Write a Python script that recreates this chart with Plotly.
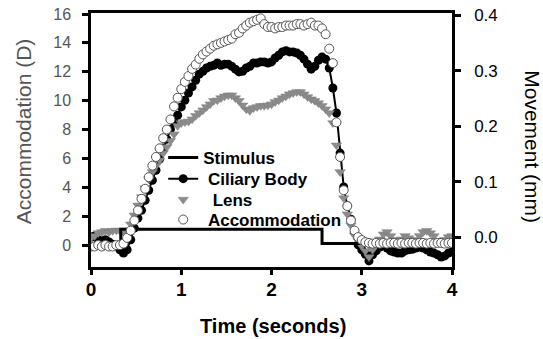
import plotly.graph_objects as go

# ---------------- data ----------------
time_s = [0.00, 0.04, 0.08, 0.12, 0.16, 0.20, 0.24, 0.28, 0.32, 0.36,
          0.40, 0.44, 0.48, 0.52, 0.56, 0.60, 0.64, 0.68, 0.72, 0.76,
          0.80, 0.84, 0.88, 0.92, 0.96, 1.00, 1.04, 1.08, 1.12, 1.16,
          1.20, 1.24, 1.28, 1.32, 1.36, 1.40, 1.44, 1.48, 1.52, 1.56,
          1.60, 1.64, 1.68, 1.72, 1.76, 1.80, 1.84, 1.88, 1.92, 1.96,
          2.00, 2.04, 2.08, 2.12, 2.16, 2.20, 2.24, 2.28, 2.32, 2.36,
          2.40, 2.44, 2.48, 2.52, 2.56, 2.60, 2.64, 2.68, 2.72, 2.76,
          2.80, 2.84, 2.88, 2.92, 2.96, 3.00, 3.04, 3.08, 3.12, 3.16,
          3.20, 3.24, 3.28, 3.32, 3.36, 3.40, 3.44, 3.48, 3.52, 3.56,
          3.60, 3.64, 3.68, 3.72, 3.76, 3.80, 3.84, 3.88, 3.92, 3.96,
          4.00]

# Accommodation (D), left axis
accommodation_D = [-0.1, -0.1, 0.0, -0.1, 0.0, -0.1, -0.1, 0.0, 0.0, 0.1,
                   0.5, 1.0, 1.7, 2.4, 3.2, 3.9, 4.7, 5.5, 6.1, 6.7,
                   7.4, 8.0, 8.7, 9.6, 10.2, 10.8, 11.3, 11.7, 12.2, 12.5,
                   12.9, 13.2, 13.4, 13.6, 13.8, 13.9, 14.0, 14.1, 14.2, 14.3,
                   14.6, 14.7, 15.0, 15.2, 15.4, 15.5, 15.6, 15.7, 15.3, 15.1,
                   15.1, 15.0, 15.1, 15.1, 15.2, 15.2, 15.2, 15.3, 15.3, 15.2,
                   15.3, 15.4, 15.2, 15.2, 15.0, 14.6, 13.6, 12.6, 8.5, 6.1,
                   3.8, 2.7, 1.7, 1.0, 0.55, 0.35, 0.2, 0.15, 0.1, 0.15,
                   0.1, 0.15, 0.1, 0.15, 0.15, 0.1, 0.15, 0.1, 0.15, 0.15,
                   0.1, 0.15, 0.15, 0.1, 0.15, 0.1, 0.15, 0.15, 0.1, 0.15,
                   0.15]

# Ciliary body movement (mm), right axis
ciliary_mm = [0.001, 0.003, -0.004, -0.006, -0.004, -0.008, -0.012, -0.015, -0.022, -0.028,
              -0.022, -0.004, 0.017, 0.035, 0.049, 0.067, 0.085, 0.103, 0.121, 0.141,
              0.161, 0.177, 0.195, 0.208, 0.220, 0.235, 0.247, 0.260, 0.271, 0.283,
              0.294, 0.299, 0.305, 0.308, 0.310, 0.314, 0.310, 0.312, 0.312, 0.308,
              0.303, 0.298, 0.299, 0.305, 0.308, 0.314, 0.314, 0.316, 0.316, 0.314,
              0.316, 0.323, 0.328, 0.334, 0.336, 0.334, 0.334, 0.332, 0.328, 0.321,
              0.312, 0.303, 0.308, 0.319, 0.325, 0.321, 0.305, 0.269, 0.224, 0.152,
              0.091, 0.057, 0.033, 0.010, -0.013, -0.022, -0.030, -0.042, -0.031, -0.024,
              -0.017, -0.013, -0.019, -0.024, -0.026, -0.028, -0.028, -0.024, -0.022, -0.021,
              -0.019, -0.017, -0.019, -0.022, -0.026, -0.028, -0.031, -0.035, -0.033, -0.028,
              -0.026]

# Lens movement (mm), right axis
lens_mm = [-0.001, 0.003, 0.008, 0.010, 0.012, 0.010, 0.012, 0.013, 0.012, 0.010,
           0.013, 0.024, 0.040, 0.058, 0.073, 0.089, 0.105, 0.118, 0.129, 0.139,
           0.152, 0.163, 0.174, 0.186, 0.201, 0.206, 0.208, 0.209, 0.213, 0.219,
           0.224, 0.229, 0.235, 0.240, 0.246, 0.247, 0.251, 0.254, 0.256, 0.256,
           0.251, 0.246, 0.238, 0.231, 0.228, 0.233, 0.235, 0.237, 0.237, 0.238,
           0.240, 0.244, 0.247, 0.251, 0.254, 0.258, 0.260, 0.262, 0.262, 0.258,
           0.253, 0.249, 0.246, 0.242, 0.237, 0.231, 0.224, 0.206, 0.166, 0.118,
           0.071, 0.042, 0.022, 0.004, -0.006, -0.015, -0.024, -0.035, -0.022, -0.012,
           -0.003, 0.006, 0.010, 0.003, -0.004, -0.008, -0.003, 0.003, -0.001, -0.006,
           -0.004, 0.003, 0.010, 0.012, 0.008, 0.003, -0.006, -0.008, -0.004, 0.001,
           0.003]

# Stimulus (schematic step, left axis units)
stimulus_t = [0.0, 0.33, 0.33, 2.56, 2.56, 4.0]
stimulus_v = [0.1, 0.1, 1.1, 1.1, 0.1, 0.1]

x_ticks = [0, 1, 2, 3, 4]
left_ticks = [0, 2, 4, 6, 8, 10, 12, 14, 16]
right_ticks = [0.0, 0.1, 0.2, 0.3, 0.4]

FONT = "Liberation Sans, Arial, sans-serif"

fig = go.Figure()

fig.add_trace(go.Scatter(
    x=stimulus_t, y=stimulus_v, name="Stimulus", mode="lines",
    line=dict(color="black", width=3), yaxis="y", legend="legend"))

fig.add_trace(go.Scatter(
    x=time_s, y=ciliary_mm, name="\u00a0Ciliary Body", mode="lines+markers",
    line=dict(color="black", width=2),
    marker=dict(symbol="circle", size=9, color="black"), yaxis="y2",
    legend="legend2"))

fig.add_trace(go.Scatter(
    x=time_s, y=lens_mm, name="\u00a0\u00a0Lens", mode="markers",
    marker=dict(symbol="triangle-down", size=9, color="#8c8c8c",
                line=dict(color="#7a7a7a", width=0.5)), yaxis="y2",
    legend="legend3"))

fig.add_trace(go.Scatter(
    x=time_s, y=accommodation_D, name="\u00a0Accommodation", mode="markers",
    marker=dict(symbol="circle", size=9, color="white",
                line=dict(color="#555555", width=1)), yaxis="y",
    legend="legend4"))

LEG_X = 0.2
def leg(yc):
    return dict(x=LEG_X, y=yc, xanchor="left", yanchor="middle",
                bgcolor="rgba(0,0,0,0)", borderwidth=0, itemwidth=30,
                font=dict(family=FONT, size=17, color="black", weight="bold"))

fig.update_layout(
    width=543, height=339,
    margin=dict(l=91, r=91, t=13, b=72, autoexpand=False),
    paper_bgcolor="white", plot_bgcolor="white",
    font=dict(family=FONT, color="black"),
    showlegend=True,
    legend=leg(0.429), legend2=leg(0.346), legend3=leg(0.264), legend4=leg(0.185),
    xaxis=dict(range=[0, 4], tickvals=x_ticks, ticks="outside", ticklen=5,
               tickwidth=2.5, tickcolor="black", showline=True, linewidth=2.5,
               linecolor="black", mirror=True, showgrid=False, zeroline=False,
               tickfont=dict(family=FONT, size=19, color="black", weight="bold"),
               ticklabelstandoff=-2),
    yaxis2=dict(range=[-0.053, 0.404], tickvals=right_ticks, tickformat=".1f",
                side="right", ticks="outside", ticklen=6, tickwidth=2.5,
                tickcolor="black", showline=True, linewidth=2.5, linecolor="black",
                showgrid=False, zeroline=False,
                tickfont=dict(family=FONT, size=17, color="black"),
                ticklabelstandoff=10),
    yaxis=dict(range=[-1.52, 16.07], tickvals=left_ticks, side="left",
               overlaying="y2", ticks="outside", ticklen=6, tickwidth=2.5,
               tickcolor="black", showline=True, linewidth=2.5, linecolor="black",
               showgrid=False, zeroline=False,
               tickfont=dict(family=FONT, size=16, color="#555555"),
               ticklabelstandoff=8),
    annotations=[
        dict(text="Accommodation (D)", xref="paper", yref="paper",
             x=-0.188, y=0.535, xanchor="center", yanchor="middle",
             textangle=-90, showarrow=False,
             font=dict(family=FONT, size=21, color="#555555")),
        dict(text="Movement (mm)", xref="paper", yref="paper",
             x=1.224, y=0.472, xanchor="center", yanchor="middle",
             textangle=90, showarrow=False,
             font=dict(family=FONT, size=21, color="black")),
        dict(text="Time (seconds)", xref="paper", yref="paper",
             x=0.504, y=-0.232, xanchor="center", yanchor="middle",
             showarrow=False,
             font=dict(family=FONT, size=20, color="black", weight="bold")),
    ],
)

fig.write_html("out.html", config={"displayModeBar": False},
               post_script="document.body.style.margin='0px';")
